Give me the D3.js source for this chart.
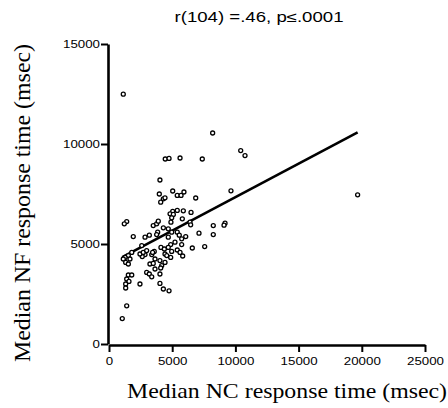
<!DOCTYPE html>
<html>
<head>
<meta charset="utf-8">
<script src="https://cdn.jsdelivr.net/npm/d3@7"></script>
<style>
  html, body { margin: 0; padding: 0; background: #fff; }
  svg { display: block; }
</style>
</head>
<body>
<svg id="chart" width="448" height="408"></svg>
<script>
// ---- Data ----
const title = "r(104) =.46, p\u2264.0001";
const xLabel = "Median NC response time (msec)";
const yLabel = "Median NF response time (msec)";
const xTicks = [0, 5000, 10000, 15000, 20000, 25000];
const yTicks = [0, 5000, 10000, 15000];
const xDomain = [0, 25000];
const yDomain = [0, 15000];

// Median NC response time (x) per participant
const ncTimes = [
  1130, 8200, 4450, 4750, 5620, 7380, 10420, 10760, 4030, 9650,
  19670, 9180, 9100, 3980, 5040, 4300, 4430, 4090, 5400, 5700,
  5930, 6860, 5040, 5400, 5880, 6490, 4830, 5090, 4960, 5800,
  4900, 6410, 6460, 8250, 1400, 1210, 5400, 7120, 8250, 4960,
  5560, 6070, 5750, 5220, 4880, 5750, 5400, 5620, 5830, 4880,
  6590, 7570, 4750, 1920, 2850, 3190, 3850, 3770, 4690, 1800,
  1530, 1270, 1130, 1660, 1320, 1530, 2850, 2630, 3380, 3580,
  4110, 4380, 4690, 4960, 3240, 3500, 4430, 4570, 4030, 4430,
  4170, 3640, 4030, 4090, 2980, 3190, 3380, 1530, 1800, 1400,
  1580, 1320, 1320, 2450, 4030, 4300, 1400, 1050, 3500, 3770,
  3900, 4300, 4690, 2450, 2710, 2980, 3450, 3640, 2590
];
// Median NF response time (y) per participant
const nfTimes = [
  12490, 10550, 9250, 9280, 9300, 9250, 9670, 9420, 8200, 7660,
  7460, 6040, 5940, 7500, 7650, 7260, 7310, 7090, 7430, 7430,
  7600, 7300, 6630, 6680, 6660, 6580, 6510, 6480, 6310, 6260,
  6090, 6090, 5960, 5920, 6120, 6010, 5590, 5540, 5470, 5590,
  5440, 5370, 5260, 5090, 4970, 4970, 4700, 4580, 4400, 4330,
  4800, 4870, 2660, 5370, 5340, 5440, 5590, 5470, 5340, 4580,
  4420, 4330, 4250, 4250, 4080, 4000, 4470, 4370, 4470, 4630,
  4830, 4750, 4830, 4630, 4000, 4030, 4500, 4420, 4170, 4080,
  3920, 3750, 3500, 3800, 3580, 3500, 3360, 3450, 3450, 3250,
  3130, 3000, 2800, 3000, 3030, 2750, 1910, 1270, 5920, 6010,
  6140, 5810, 5760, 4500, 4580, 4670, 4580, 4250, 4920
];
// Regression line as drawn (slope / intercept)
const fitSlope = 0.335;
const fitIntercept = 3995;

// ---- Drawing ----
const svg = d3.select("#chart");
const x = d3.scaleLinear().domain(xDomain).range([109, 425]);
const y = d3.scaleLinear().domain(yDomain).range([344, 44]);

const fmt = d3.format("d");
const digitW = 7.4;

// Y axis
const yAxis = svg.append("g")
  .attr("transform", "translate(108,0)")
  .call(d3.axisLeft(y).tickValues(yTicks).tickFormat(fmt).tickSize(7).tickSizeOuter(0).tickPadding(2));
// X axis
const xAxis = svg.append("g")
  .attr("transform", "translate(0,345)")
  .call(d3.axisBottom(x).tickValues(xTicks).tickFormat(fmt).tickSize(7).tickSizeOuter(0).tickPadding(2));

[xAxis, yAxis].forEach(g => {
  g.select(".domain").attr("stroke", "#000").attr("stroke-width", 2.6);
  g.selectAll(".tick line").attr("stroke", "#000").attr("stroke-width", 2);
  g.selectAll(".tick text")
    .attr("fill", "#000")
    .style("font-family", "'Liberation Sans', Arial, sans-serif")
    .style("font-size", "11px")
    .attr("textLength", d => String(fmt(d)).length * digitW)
    .attr("lengthAdjust", "spacingAndGlyphs");
});
xAxis.selectAll(".tick text").attr("dy", "0.71em").attr("y", 12);
yAxis.selectAll(".tick text").attr("x", -8);

// Regression line
const xr = d3.extent(ncTimes);
svg.append("line")
  .attr("x1", x(xr[0])).attr("y1", y(fitSlope * xr[0] + fitIntercept))
  .attr("x2", x(xr[1])).attr("y2", y(fitSlope * xr[1] + fitIntercept))
  .attr("stroke", "#000").attr("stroke-width", 2.6);

// Points
svg.append("g").selectAll("circle")
  .data(ncTimes.map((v, i) => [v, nfTimes[i]]))
  .join("circle")
  .attr("cx", d => x(d[0]))
  .attr("cy", d => y(d[1]))
  .attr("r", 2)
  .attr("fill", "#fff")
  .attr("stroke", "#000")
  .attr("stroke-width", 1.3);

// Title
svg.append("text")
  .attr("x", 259).attr("y", 22)
  .attr("text-anchor", "middle")
  .style("font-family", "'Liberation Sans', Arial, sans-serif")
  .style("font-size", "14px")
  .attr("textLength", 169).attr("lengthAdjust", "spacingAndGlyphs")
  .text(title);

// X axis title
svg.append("text")
  .attr("x", 287).attr("y", 398)
  .attr("text-anchor", "middle")
  .style("font-family", "'Liberation Serif', 'Times New Roman', serif")
  .style("font-size", "22px")
  .attr("textLength", 320).attr("lengthAdjust", "spacingAndGlyphs")
  .text(xLabel);

// Y axis title
svg.append("text")
  .attr("transform", "translate(30,203) rotate(-90)")
  .attr("text-anchor", "middle")
  .style("font-family", "'Liberation Serif', 'Times New Roman', serif")
  .style("font-size", "23px")
  .attr("textLength", 318).attr("lengthAdjust", "spacingAndGlyphs")
  .text(yLabel);
</script>
</body>
</html>
